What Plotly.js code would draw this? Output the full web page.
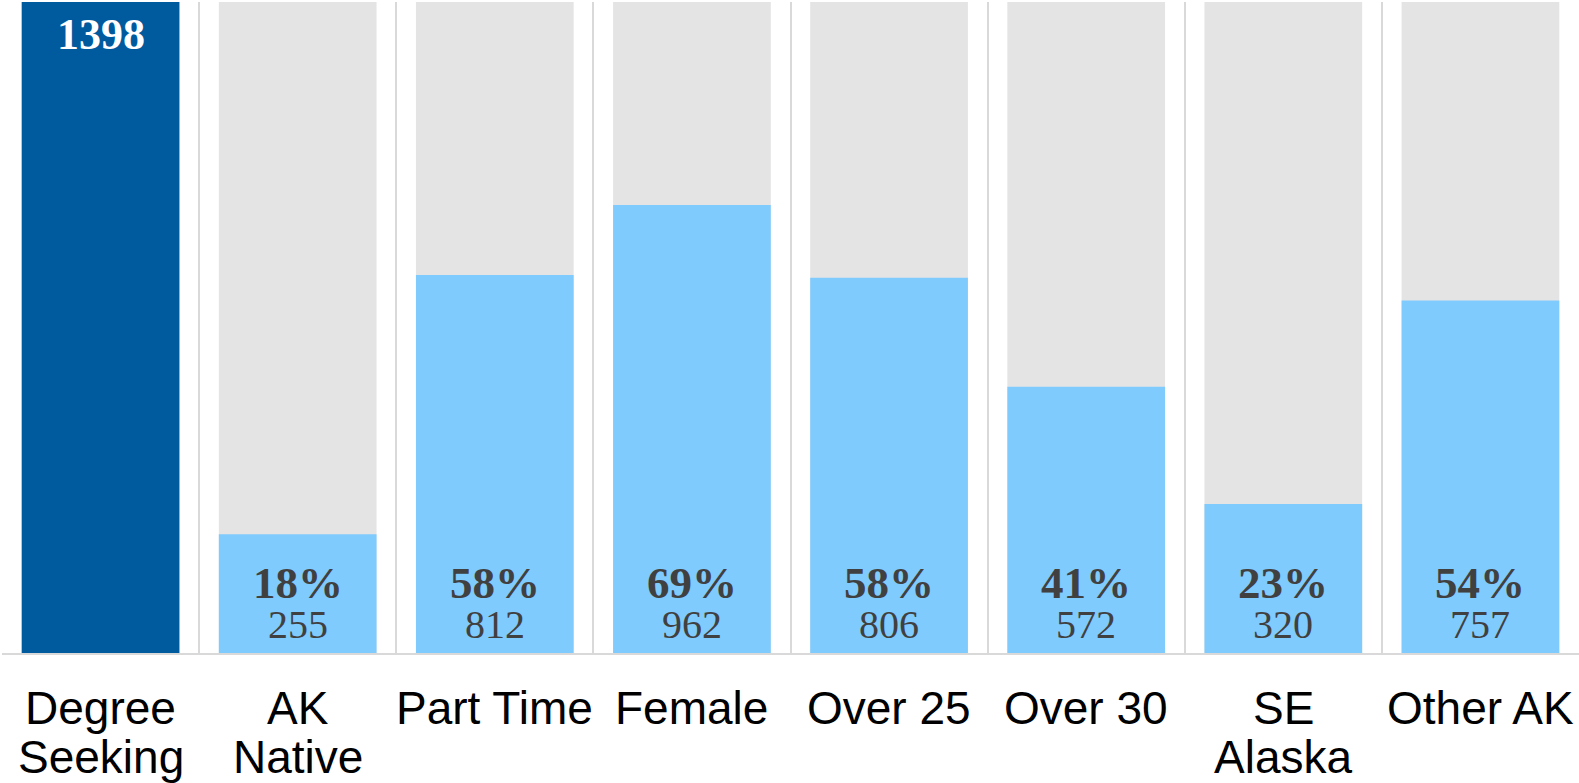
<!DOCTYPE html>
<html>
<head>
<meta charset="utf-8">
<script src="https://cdn.plot.ly/plotly-3.0.1.min.js"></script>
<style>html,body{margin:0;padding:0;background:#fff;}#chart{width:1579px;height:783px;}</style>
</head>
<body>
<div id="chart"></div>
<script>
const categories = ["Degree<br>Seeking", "AK<br>Native", "Part Time", "Female", "Over 25", "Over 30", "SE<br>Alaska", "Other AK"];
const total = 1398;
const subCategories = categories.slice(1);
const counts = [255, 812, 962, 806, 572, 320, 757];
const percents = [18, 58, 69, 58, 41, 23, 54];

const traces = [
  {
    type: 'bar', x: categories, y: categories.map(() => total),
    marker: {color: '#e4e4e4'}, width: 0.8, hoverinfo: 'skip', showlegend: false
  },
  {
    type: 'bar', x: [categories[0]], y: [total],
    marker: {color: '#005a9e'}, width: 0.8, showlegend: false
  },
  {
    type: 'bar', x: subCategories, y: counts,
    marker: {color: '#80cbfd'}, width: 0.8, showlegend: false
  }
];

const serif = 'Liberation Serif, Times New Roman, serif';
const sans = 'Liberation Sans, Arial, sans-serif';
const annotations = [
  {x: categories[0], y: total, xref: 'x', yref: 'y', yanchor: 'top', yshift: -6,
   text: '<b>' + total + '</b>', showarrow: false,
   font: {family: serif, size: 44, color: '#ffffff'}}
];
subCategories.forEach((c, i) => {
  annotations.push({x: c, y: 0, xref: 'x', yref: 'y', yanchor: 'bottom', yshift: 44, borderpad: 0,
    text: '<b>' + percents[i] + '%</b>', showarrow: false,
    font: {family: serif, size: 45, color: '#404040'}});
  annotations.push({x: c, y: 0, xref: 'x', yref: 'y', yanchor: 'bottom', yshift: 5, borderpad: 0,
    text: String(counts[i]), showarrow: false,
    font: {family: serif, size: 40, color: '#404040'}});
});
// category labels, one annotation per line for tighter line spacing
categories.forEach(c => {
  c.split('<br>').forEach((line, j) => {
    annotations.push({x: c, y: 0, xref: 'x', yref: 'paper', yanchor: 'top', yshift: -27 - 49 * j,
      text: line, showarrow: false, font: {family: sans, size: 46, color: '#000000'}});
  });
});

const layout = {
  width: 1579, height: 783,
  margin: {l: 2, r: 0, t: 2, b: 130},
  paper_bgcolor: '#ffffff', plot_bgcolor: '#ffffff',
  barmode: 'overlay',
  showlegend: false,
  xaxis: {
    type: 'category', tickson: 'boundaries', showgrid: true, gridcolor: '#d9d9d9', gridwidth: 2,
    showline: true, linecolor: '#d9d9d9', linewidth: 2, ticks: '', ticklen: 0,
    showticklabels: false, automargin: false,
    range: [-0.5, 7.5], fixedrange: true
  },
  yaxis: {range: [0, total], showgrid: false, zeroline: false, showticklabels: false, ticks: '', fixedrange: true, automargin: false},
  annotations: annotations
};

Plotly.newPlot('chart', traces, layout, {displayModeBar: false, staticPlot: true});
</script>
</body>
</html>
